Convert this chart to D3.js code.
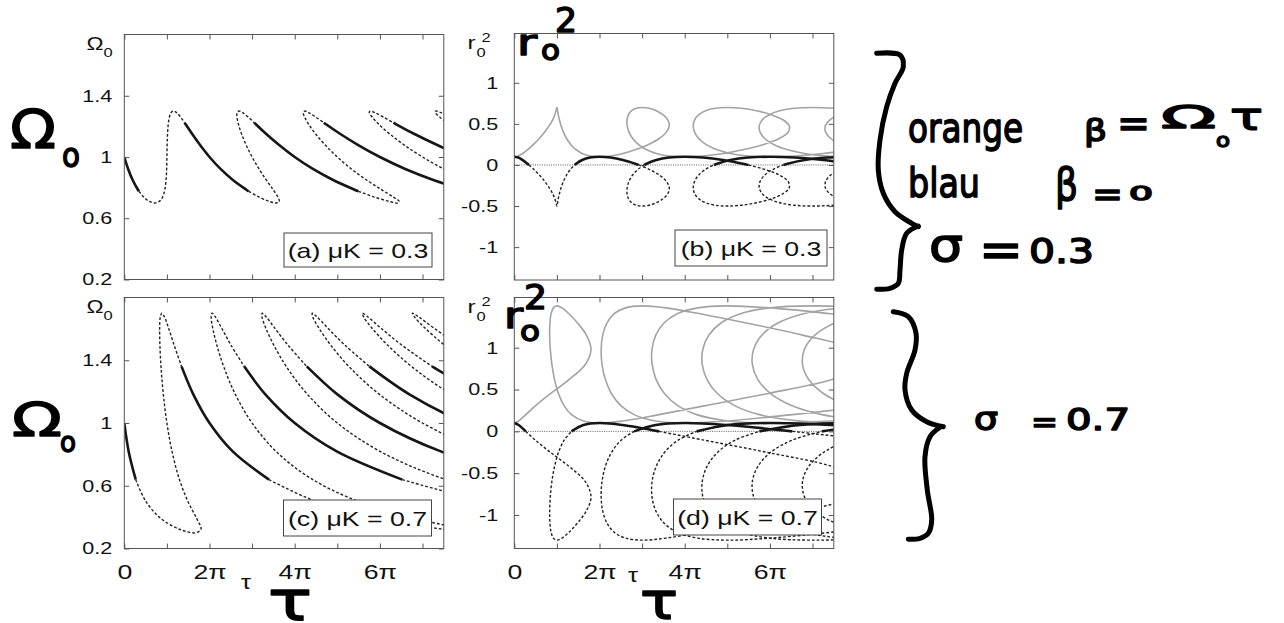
<!DOCTYPE html>
<html lang="en">
<head>
<meta charset="UTF-8">
<title>Omega0 and r0^2 against tau</title>
<script src="https://d3js.org/d3.v7.min.js"></script>
<style>
  body { margin: 0; background: #fff; }
  svg text { font-family: "Liberation Sans", Arial, sans-serif; fill: #111; }
  svg text.hand { font-family: "DejaVu Sans", sans-serif; fill: #000; stroke: #000; stroke-width: 1.5px; stroke-linejoin: round; }
</style>
</head>
<body>
<div id="chart"></div>
<script>
// tau is kept in units of pi. Point by point along each branch.
// muK = 0.3  (panels a, b)
const tau03 = [
  0, .09, .196, .317, .345, .45, .587, .714, .821, .901, .952, .98, .994, 1, 1.005, 1.015, 1.031, 1.058, 1.098, 1.154, 1.228, 1.323, 1.416, 1.444, 1.594, 1.779,
  2, 2.259, 2.549, 2.856, 2.921, 3.152, 3.403, 3.571, 3.638, 3.603, 3.49, 3.333, 3.162, 3, 2.861, 2.754, 2.681, 2.646, 2.649, 2.692, 2.778, 2.911, 3.05, 3.094, 3.333, 3.635,
  4, 4.427, 4.902, 5.394, 5.497, 5.854, 6.219, 6.429, 6.454, 6.305, 6.029, 5.686, 5.33, 5, 4.717, 4.493, 4.331, 4.234, 4.2, 4.231, 4.329, 4.498, 4.685, 4.744, 5.072, 5.491,
  6, 6.595, 7.255, 7.933, 8.073, 8.556, 9.035, 9.286, 9.27, 9.007, 8.567, 8.039, 7.499, 7, 6.573, 6.232, 5.981, 5.821, 5.75, 5.769, 5.88, 6.086, 6.319, 6.394, 6.812, 7.347,
  8, 8.763, 9.608, 10.471, 10.649, 11.258, 11.851, 12.143, 12.086, 11.708, 11.105, 10.392, 9.667, 9, 8.429, 7.971, 7.631, 7.409, 7.301, 7.308, 7.43, 7.673, 7.954, 8.044
];
const om03 = [
  1, .922, .85, .788, .776, .74, .71, .7, .71, .74, .788, .85, .922, 1, 1.078, 1.15, 1.212, 1.26, 1.29, 1.3, 1.29, 1.26, 1.224, 1.212, 1.15, 1.078,
  1, .922, .85, .788, .776, .74, .71, .7, .71, .74, .788, .85, .922, 1, 1.078, 1.15, 1.212, 1.26, 1.29, 1.3, 1.29, 1.26, 1.224, 1.212, 1.15, 1.078,
  1, .922, .85, .788, .776, .74, .71, .7, .71, .74, .788, .85, .922, 1, 1.078, 1.15, 1.212, 1.26, 1.29, 1.3, 1.29, 1.26, 1.224, 1.212, 1.15, 1.078,
  1, .922, .85, .788, .776, .74, .71, .7, .71, .74, .788, .85, .922, 1, 1.078, 1.15, 1.212, 1.26, 1.29, 1.3, 1.29, 1.26, 1.224, 1.212, 1.15, 1.078,
  1, .922, .85, .788, .776, .74, .71, .7, .71, .74, .788, .85, .922, 1, 1.078, 1.15, 1.212, 1.26, 1.29, 1.3, 1.29, 1.26, 1.224, 1.212
];
const r2black03 = [
  .1, .09, .06, .012, 0, -.05, -.122, -.2, -.278, -.35, -.412, -.46, -.49, -.5, -.49, -.46, -.412, -.35, -.278, -.2, -.122, -.05, 0, .012, .06, .09,
  .1, .09, .06, .012, 0, -.05, -.122, -.2, -.278, -.35, -.412, -.46, -.49, -.5, -.49, -.46, -.412, -.35, -.278, -.2, -.122, -.05, 0, .012, .06, .09,
  .1, .09, .06, .012, 0, -.05, -.122, -.2, -.278, -.35, -.412, -.46, -.49, -.5, -.49, -.46, -.412, -.35, -.278, -.2, -.122, -.05, 0, .012, .06, .09,
  .1, .09, .06, .012, 0, -.05, -.122, -.2, -.278, -.35, -.412, -.46, -.49, -.5, -.49, -.46, -.412, -.35, -.278, -.2, -.122, -.05, 0, .012, .06, .09,
  .1, .09, .06, .012, 0, -.05, -.122, -.2, -.278, -.35, -.412, -.46, -.49, -.5, -.49, -.46, -.412, -.35, -.278, -.2, -.122, -.05, 0, .012
];
const r2gray03 = [
  .1, .11, .14, .188, .2, .25, .322, .4, .478, .55, .612, .66, .69, .7, .69, .66, .612, .55, .478, .4, .322, .25, .2, .188, .14, .11,
  .1, .11, .14, .188, .2, .25, .322, .4, .478, .55, .612, .66, .69, .7, .69, .66, .612, .55, .478, .4, .322, .25, .2, .188, .14, .11,
  .1, .11, .14, .188, .2, .25, .322, .4, .478, .55, .612, .66, .69, .7, .69, .66, .612, .55, .478, .4, .322, .25, .2, .188, .14, .11,
  .1, .11, .14, .188, .2, .25, .322, .4, .478, .55, .612, .66, .69, .7, .69, .66, .612, .55, .478, .4, .322, .25, .2, .188, .14, .11,
  .1, .11, .14, .188, .2, .25, .322, .4, .478, .55, .612, .66, .69, .7, .69, .66, .612, .55, .478, .4, .322, .25, .2, .188
];

// muK = 0.7  (panels c, d)
const tau07 = [
  0, .102, .269, .495, .847, 1.286, 1.667, 1.801, 1.693, 1.485, 1.282, 1.12, 1, .917, .864, .836, .83, .845, .882, .945, 1.038, 1.171, 1.343, 1.623,
  2, 2.544, 3.397, 4.455, 5.925, 7.461, 8.333, 7.976, 6.772, 5.446, 4.359, 3.562, 3, 2.61, 2.346, 2.174, 2.075, 2.039, 2.059, 2.138, 2.283, 2.508, 2.813, 3.316,
  4, 4.987, 6.525, 8.416, 11.004, 13.636, 15, 14.15, 11.85, 9.406, 7.436, 6.005, 5, 4.304, 3.827, 3.512, 3.321, 3.232, 3.235, 3.331, 3.528, 3.846, 4.283, 5.009,
  6, 7.43, 9.653, 12.376, 16.083, 19.811, 21.667, 20.325, 16.929, 13.366, 10.513, 8.447, 7, 5.997, 5.309, 4.85, 4.566, 4.425, 4.412, 4.524, 4.773, 5.184, 5.753, 6.702,
  8, 9.872, 12.781, 16.337, 21.162, 25.985, 28.333, 26.5, 22.007, 17.327, 13.59, 10.89, 9, 7.69, 6.79, 6.187, 5.811, 5.618, 5.588, 5.718, 6.018, 6.522, 7.223, 8.395,
  10, 12.315, 15.909, 20.297, 26.24, 32.16, 35, 32.675, 27.087, 21.287, 16.667, 13.332, 11, 9.383, 8.272, 7.525, 7.056, 6.811, 6.765, 6.911, 7.264, 7.86, 8.693, 10.089
];
const om07 = [
  1, .819, .639, .505, .394, .324, .3, .324, .394, .505, .65, .819, 1, 1.181, 1.35, 1.495, 1.606, 1.676, 1.7, 1.676, 1.606, 1.495, 1.361, 1.181,
  1, .819, .639, .505, .394, .324, .3, .324, .394, .505, .65, .819, 1, 1.181, 1.35, 1.495, 1.606, 1.676, 1.7, 1.676, 1.606, 1.495, 1.361, 1.181,
  1, .819, .639, .505, .394, .324, .3, .324, .394, .505, .65, .819, 1, 1.181, 1.35, 1.495, 1.606, 1.676, 1.7, 1.676, 1.606, 1.495, 1.361, 1.181,
  1, .819, .639, .505, .394, .324, .3, .324, .394, .505, .65, .819, 1, 1.181, 1.35, 1.495, 1.606, 1.676, 1.7, 1.676, 1.606, 1.495, 1.361, 1.181,
  1, .819, .639, .505, .394, .324, .3, .324, .394, .505, .65, .819, 1, 1.181, 1.35, 1.495, 1.606, 1.676, 1.7, 1.676, 1.606, 1.495, 1.361, 1.181,
  1, .819, .639, .505, .394, .324, .3, .324, .394, .505, .65, .819, 1, 1.181, 1.35, 1.495, 1.606, 1.676, 1.7, 1.676, 1.606, 1.495, 1.361, 1.181
];
const r2black07 = [
  .1, .076, 0, -.105, -.25, -.419, -.6, -.781, -.95, -1.095, -1.206, -1.276, -1.3, -1.276, -1.206, -1.095, -.95, -.781, -.6, -.419, -.25, -.105, 0, .076,
  .1, .076, 0, -.105, -.25, -.419, -.6, -.781, -.95, -1.095, -1.206, -1.276, -1.3, -1.276, -1.206, -1.095, -.95, -.781, -.6, -.419, -.25, -.105, 0, .076,
  .1, .076, 0, -.105, -.25, -.419, -.6, -.781, -.95, -1.095, -1.206, -1.276, -1.3, -1.276, -1.206, -1.095, -.95, -.781, -.6, -.419, -.25, -.105, 0, .076,
  .1, .076, 0, -.105, -.25, -.419, -.6, -.781, -.95, -1.095, -1.206, -1.276, -1.3, -1.276, -1.206, -1.095, -.95, -.781, -.6, -.419, -.25, -.105, 0, .076,
  .1, .076, 0, -.105, -.25, -.419, -.6, -.781, -.95, -1.095, -1.206, -1.276, -1.3, -1.276, -1.206, -1.095, -.95, -.781, -.6, -.419, -.25, -.105, 0, .076,
  .1, .076, 0, -.105, -.25, -.419, -.6, -.781, -.95, -1.095, -1.206, -1.276, -1.3, -1.276, -1.206, -1.095, -.95, -.781, -.6, -.419, -.25, -.105, 0, .076
];
const r2gray07 = [
  .1, .124, .2, .305, .45, .619, .8, .981, 1.15, 1.295, 1.406, 1.476, 1.5, 1.476, 1.406, 1.295, 1.15, .981, .8, .619, .45, .305, .2, .124,
  .1, .124, .2, .305, .45, .619, .8, .981, 1.15, 1.295, 1.406, 1.476, 1.5, 1.476, 1.406, 1.295, 1.15, .981, .8, .619, .45, .305, .2, .124,
  .1, .124, .2, .305, .45, .619, .8, .981, 1.15, 1.295, 1.406, 1.476, 1.5, 1.476, 1.406, 1.295, 1.15, .981, .8, .619, .45, .305, .2, .124,
  .1, .124, .2, .305, .45, .619, .8, .981, 1.15, 1.295, 1.406, 1.476, 1.5, 1.476, 1.406, 1.295, 1.15, .981, .8, .619, .45, .305, .2, .124,
  .1, .124, .2, .305, .45, .619, .8, .981, 1.15, 1.295, 1.406, 1.476, 1.5, 1.476, 1.406, 1.295, 1.15, .981, .8, .619, .45, .305, .2, .124,
  .1, .124, .2, .305, .45, .619, .8, .981, 1.15, 1.295, 1.406, 1.476, 1.5, 1.476, 1.406, 1.295, 1.15, .981, .8, .619, .45, .305, .2, .124
];

// axes
const tauTicks = [0, 1, 2, 3, 4, 5, 6, 7];
const tauLabelVals = [0, 2, 4, 6];
const tauLabelText = ["0", "2\u03c0", "4\u03c0", "6\u03c0"];
const omTicks = [0.2, 0.6, 1, 1.4];
const r2Ticks = [-1, -0.5, 0, 0.5, 1];
const panelLabels = ["(a) \u03bcK = 0.3", "(b) \u03bcK = 0.3", "(c) \u03bcK = 0.7", "(d) \u03bcK = 0.7"];

const width = 1284, height = 623;
const SX = 1.27;   // the source figure is stretched sideways

const svg = d3.select("#chart").append("svg")
  .attr("width", width)
  .attr("height", height);

const panels = [
  {key: "a", left: 124.3, right: 443.8, top: 34.5, bottom: 279.5, r2: false, tau: tau03, val: om03, stab: r2black03, gap: 12, xLabels: false, box: [284, 233, 148, 34], label: panelLabels[0]},
  {key: "b", left: 514.3, right: 833.8, top: 33.5, bottom: 280, r2: true, tau: tau03, val: r2black03, gray: r2gray03, stab: r2black03, gap: 16, xLabels: false, box: [675, 230, 152, 36], label: panelLabels[1]},
  {key: "c", left: 124.3, right: 443.8, top: 297.5, bottom: 548.5, r2: false, tau: tau07, val: om07, stab: r2black07, gap: 12, xLabels: true, box: [283.5, 500, 148, 36], label: panelLabels[2]},
  {key: "d", left: 514.3, right: 833.8, top: 297.5, bottom: 548.5, r2: true, tau: tau07, val: r2black07, gray: r2gray07, stab: r2black07, gap: 16, xLabels: true, box: [673.5, 499, 148, 36], label: panelLabels[3]}
];

// split a branch into runs: solid where r0^2 >= 0 (stable), dashed elsewhere
function runs(xs, ys, st) {
  const out = [];
  let on = st[0] >= 0 && st[1] >= 0;
  let cur = [[xs[0], ys[0]]];
  for (let i = 1; i < xs.length; i++) {
    const s = st[i - 1] >= 0 && st[i] >= 0;
    if (s !== on) {
      out.push({stable: on, pts: cur});
      cur = [[xs[i - 1], ys[i - 1]]];
      on = s;
    }
    cur.push([xs[i], ys[i]]);
  }
  out.push({stable: on, pts: cur});
  return out;
}

function stretched(parent, x, y, str, size, anchor) {
  return parent.append("text")
    .attr("transform", `translate(${x},${y}) scale(${SX},1)`)
    .attr("text-anchor", anchor || "start")
    .style("font-size", size + "px")
    .text(str);
}

panels.forEach(p => {
  const x = d3.scaleLinear().domain([0, 7.5]).range([p.left, p.right]);
  const y = d3.scaleLinear().domain(p.r2 ? [-1.4, 1.6] : [0.2, 1.8]).range([p.bottom, p.top]);
  const g = svg.append("g");

  svg.append("clipPath").attr("id", "clip-" + p.key)
    .append("rect")
    .attr("x", p.left).attr("y", p.top)
    .attr("width", p.right - p.left).attr("height", p.bottom - p.top);

  const plot = g.append("g").attr("clip-path", `url(#clip-${p.key})`);
  const line = d3.line()
    .x(d => x(d[0]))
    .y(d => y(d[1]))
    .curve(d3.curveCatmullRom.alpha(0.5));

  if (p.r2) {
    plot.append("line")
      .attr("x1", x(0)).attr("x2", x(7.5))
      .attr("y1", y(0)).attr("y2", y(0))
      .attr("stroke", "#333").attr("stroke-width", 0.8)
      .attr("stroke-dasharray", "1,1.3");

    plot.append("path")
      .attr("d", line(p.tau.map((t, i) => [t, p.gray[i]])))
      .attr("fill", "none")
      .attr("stroke", "#a3a3a3")
      .attr("stroke-width", 1.6);
  }

  runs(p.tau, p.val, p.stab).forEach(r => {
    plot.append("path")
      .attr("d", line(r.pts))
      .attr("fill", "none")
      .attr("stroke", r.stable ? "#161616" : "#222")
      .attr("stroke-width", r.stable ? 2.6 : 1.4)
      .attr("stroke-dasharray", r.stable ? null : "2.8,2");
  });

  // axes, ticks pointing inwards on all four sides
  const fmtTau = d => {
    const i = tauLabelVals.indexOf(d);
    return p.xLabels && i >= 0 ? tauLabelText[i] : "";
  };
  const yTicks = p.r2 ? r2Ticks : omTicks;

  const axB = g.append("g").attr("transform", `translate(0,${p.bottom})`)
    .call(d3.axisBottom(x).tickValues(tauTicks).tickSize(-5).tickPadding(16).tickFormat(fmtTau));
  const axT = g.append("g").attr("transform", `translate(0,${p.top})`)
    .call(d3.axisTop(x).tickValues(tauTicks).tickSize(-5).tickFormat(""));
  const axL = g.append("g").attr("transform", `translate(${p.left},0)`)
    .call(d3.axisLeft(y).tickValues(yTicks).tickSize(-5).tickPadding(p.gap / SX).tickFormat(d => String(d)));
  const axR = g.append("g").attr("transform", `translate(${p.right},0)`)
    .call(d3.axisRight(y).tickValues(yTicks).tickSize(-5).tickFormat(""));

  [axB, axT, axL, axR].forEach(a => {
    a.select(".domain").remove();
    a.selectAll(".tick line").attr("stroke", "#555");
  });
  axB.selectAll("text")
    .attr("transform", `scale(${SX},1)`)
    .style("font-family", "Liberation Sans, Arial, sans-serif")
    .style("font-size", "21px").attr("fill", "#111");
  axL.selectAll("text")
    .attr("transform", `scale(${SX},1)`)
    .style("font-family", "Liberation Sans, Arial, sans-serif")
    .style("font-size", "17px").attr("fill", "#111");

  g.append("rect")
    .attr("x", p.left).attr("y", p.top)
    .attr("width", p.right - p.left).attr("height", p.bottom - p.top)
    .attr("fill", "none").attr("stroke", "#555").attr("stroke-width", 1);

  // panel label box
  const [bx, by, bw, bh] = p.box;
  g.append("rect")
    .attr("x", bx).attr("y", by).attr("width", bw).attr("height", bh)
    .attr("fill", "#fff").attr("stroke", "#444").attr("stroke-width", 1);
  stretched(g, bx + bw / 2, by + bh / 2 + 7.5, p.label, 21, "middle");

  // y-axis name at the top of the axis
  if (p.r2) {
    stretched(g, 467.5, p.top + 15, "r", 19);
    stretched(g, 476.5, p.top + 23, "0", 13);
    stretched(g, 481.5, p.top + 8.5, "2", 13);
  } else {
    const t = stretched(g, 86.5, p.top + 15.5, "\u03a9", 18);
    t.append("tspan").attr("dy", 6.5).style("font-size", "13px").text("0");
  }
});

// small tau labels under the bottom axes
stretched(svg, 246, 589, "\u03c4", 20, "middle");
stretched(svg, 633, 582, "\u03c4", 20, "middle");

// ---- handwritten notes ----
function hand(x, y, str, size, w) {
  const t = svg.append("text").attr("class", "hand")
    .attr("x", x).attr("y", y)
    .style("font-size", size + "px")
    .text(str);
  if (w) t.attr("textLength", w).attr("lengthAdjust", "spacingAndGlyphs");
  return t;
}

hand(10, 148, "\u03a9", 54, 46);
hand(62, 167, "o", 34, 18);
hand(12, 436, "\u03a9", 47, 50);
hand(60, 452, "o", 28, 16);

hand(517, 55, "r", 36, 20);
hand(541, 60, "o", 28, 19);
hand(555, 32, "2", 34, 22);
hand(504, 328, "r", 36, 19);
hand(520, 341, "o", 28, 20);
hand(524, 309, "2", 34, 23);

hand(268, 620, "\u03c4", 56, 44);
hand(640, 619, "\u03c4", 52, 38);

hand(908, 142, "orange", 40, 115);
hand(1084, 141, "\u03b2", 30, 23);
hand(1117, 137, "=", 40, 33);
hand(1161, 128, "\u03a9", 32, 55);
hand(1216, 147, "o", 20, 14);
hand(1230, 130, "\u03c4", 38, 33);

hand(908, 197, "blau", 40, 72);
hand(1055, 200, "\u03b2", 44, 23);
hand(1092, 206, "=", 36, 31);
hand(1129, 200, "0", 20, 24);

hand(929, 261, "\u03c3", 46, 34);
hand(979, 267, "=", 50, 44);
hand(1029, 263, "0.3", 34, 65);

hand(974, 430, "\u03c3", 32, 24);
hand(1031, 432, "=", 30, 27);
hand(1066, 430, "0.7", 30, 64);

const pen = d3.line().curve(d3.curveCatmullRom.alpha(0.5));
const strokes = [
  [[876.7, 53.3], [900, 55], [903.3, 66.7], [895, 83.3], [886.7, 106.7], [880, 140], [878.3, 170], [883.3, 193.3], [895, 211.7], [911.7, 223.3], [918.3, 226.7]],
  [[918.3, 226], [906.7, 233.3], [901.7, 250], [900, 270], [898.3, 283.3], [890, 288.3], [876.7, 289.3]],
  [[893.3, 311.7], [908.3, 316.7], [916, 333.3], [915, 350], [906.7, 373.3], [905, 390], [911.7, 410], [926.7, 421.7], [943.3, 426.7]],
  [[940, 427.3], [930, 436.7], [925, 456.7], [927.3, 490], [931.7, 520], [928.3, 533.3], [920, 538.3], [908.3, 539.3]]
];
strokes.forEach(s => {
  svg.append("path")
    .attr("d", pen(s))
    .attr("fill", "none")
    .attr("stroke", "#000")
    .attr("stroke-width", 5)
    .attr("stroke-linecap", "round")
    .attr("stroke-linejoin", "round");
});
</script>
</body>
</html>
